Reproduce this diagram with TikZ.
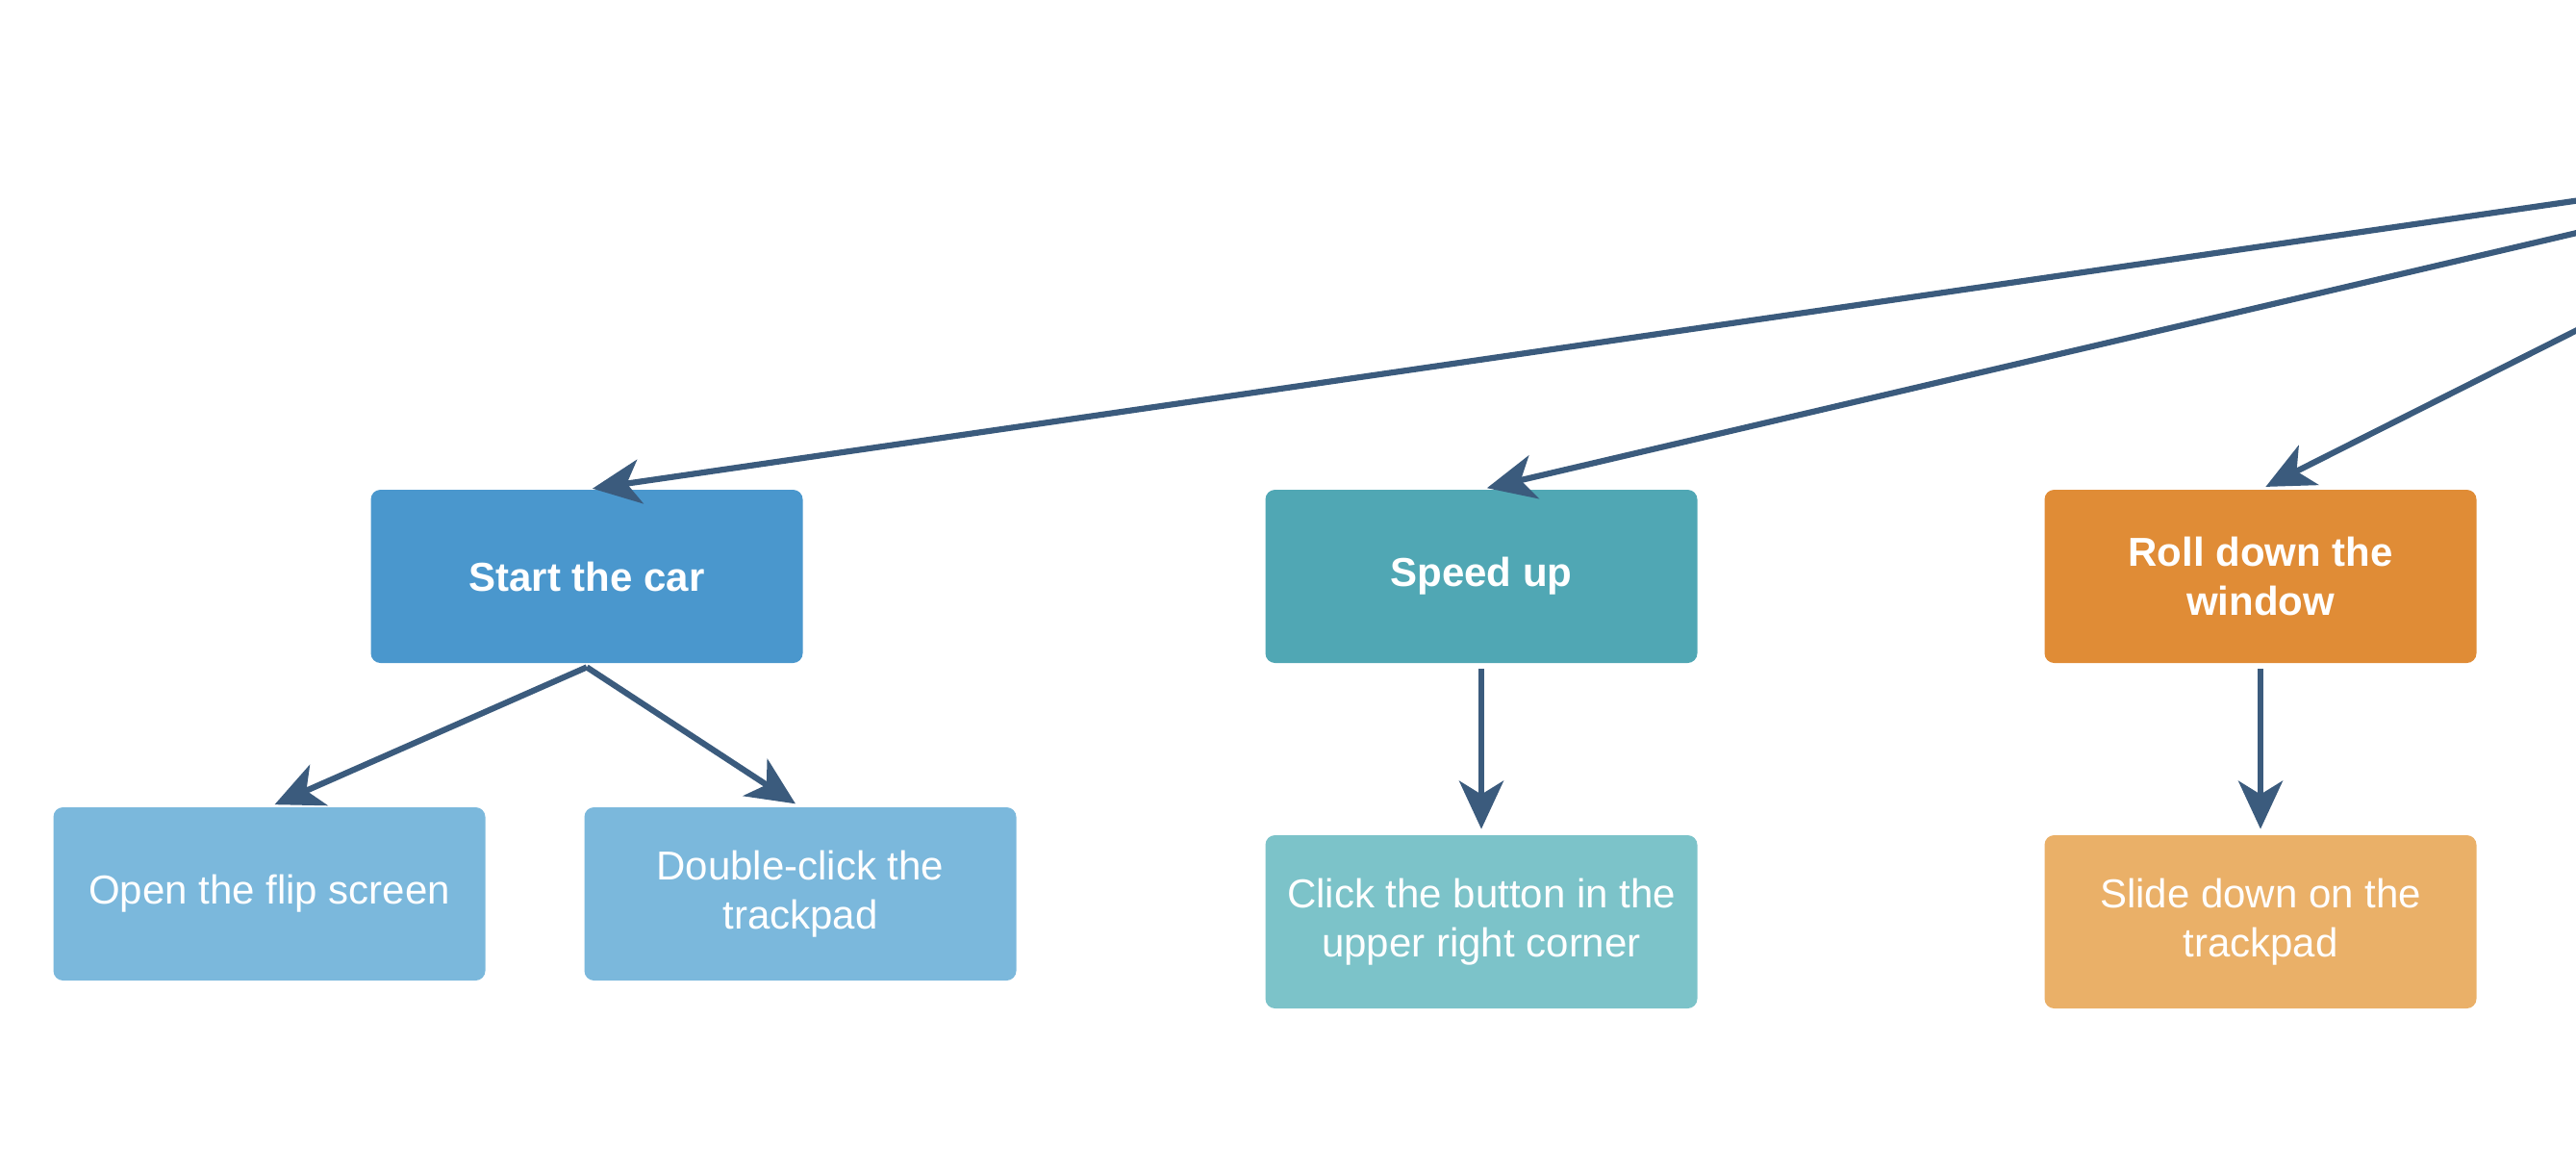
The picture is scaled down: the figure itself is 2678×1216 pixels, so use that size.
\documentclass[tikz,border=0pt]{standalone}
\usepackage{fontspec}
\setmainfont{Liberation Sans}
\usetikzlibrary{arrows.meta}
\definecolor{arrowc}{HTML}{3B5B7D}
\definecolor{startc}{HTML}{4A97CD}
\definecolor{speedc}{HTML}{50A7B4}
\definecolor{rollc}{HTML}{E08C36}
\definecolor{openc}{HTML}{7BB8DC}
\definecolor{clickc}{HTML}{7CC3C9}
\definecolor{slidec}{HTML}{EAB068}
\begin{document}
\begin{tikzpicture}[x=0.5pt,y=-0.5pt,
  box/.style={rounded corners=5pt, minimum width=224.5pt, minimum height=90pt,
    inner sep=0pt, align=center, text=white, font=\fontsize{21}{25.5}\selectfont},
  mainbox/.style={box, font=\fontsize{21}{25.5}\selectfont\bfseries},
  link/.style={draw=arrowc, line width=3.1pt,
    -{Stealth[length=25pt,width=23pt,inset=7pt]}, shorten >=3pt}]
\useasboundingbox (0,0) rectangle (2678,1216);
\clip (0,0) rectangle (2678,1216);
\coordinate (root) at (3055,154);
\node[mainbox, fill=startc] (start) at (610,599) {Start the car};
\node[mainbox, fill=speedc] (speed) at (1540,599) {Speed up};
\node[mainbox, fill=rollc] (roll) at (2350,599) {Roll down the\\window};
\node[box, fill=openc] (open) at (280,929) {Open the flip screen};
\node[box, fill=openc] (dbl) at (832,929) {Double-click the\\trackpad};
\node[box, fill=clickc] (click) at (1540,958) {Click the button in the\\upper right corner};
\node[box, fill=slidec] (slide) at (2350,958) {Slide down on the\\trackpad};
\draw[link] (root) -- (start.north);
\draw[link] (root) -- (speed.north);
\draw[link] (root) -- (roll.north);
\draw[link] ([yshift=-2pt]start.south) -- (open.north);
\draw[link] ([yshift=-2pt]start.south) -- (dbl.north);
\draw[link] ([yshift=-3pt]speed.south) -- (click.north);
\draw[link] ([yshift=-3pt]roll.south) -- (slide.north);
\end{tikzpicture}
\end{document}
